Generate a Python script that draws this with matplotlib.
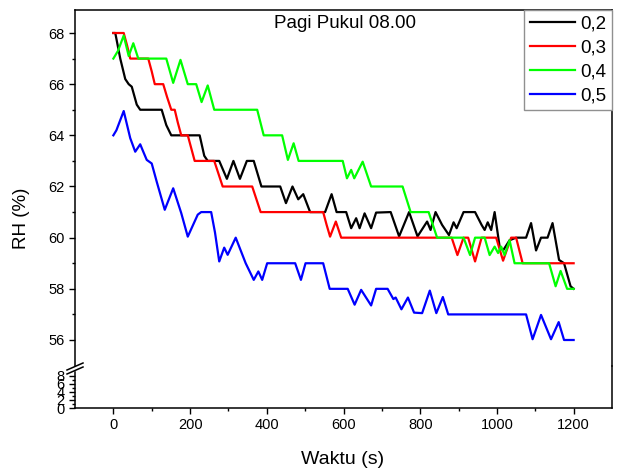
import matplotlib
matplotlib.use("Agg")
import matplotlib.pyplot as plt
from matplotlib.lines import Line2D

plt.rcParams['font.family'] = ['Liberation Sans', 'DejaVu Sans']

# data: time (s) and RH (%) at the turning points
t_02 = [0, 5, 18, 31, 40, 48, 61, 70, 126, 138, 151, 225, 237, 246, 276, 296, 313, 330, 348,
        366, 386, 435, 450, 467, 482, 495, 513, 552, 569, 582, 607, 620, 633, 642, 655, 672,
        685, 723, 745, 771, 793, 818, 827, 840, 857, 875, 887, 895, 913, 943, 960, 968, 976,
        985, 994, 1007, 1016, 1033, 1050, 1076, 1089, 1102, 1115, 1132, 1145, 1162, 1175, 1192, 1200]
rh_02 = [68, 68, 67.0, 66.2, 66.0, 65.9, 65.2, 65, 65, 64.4, 64, 64, 63.2, 63, 63, 62.3, 63, 62.3, 63,
         63, 62, 62, 61.35, 62, 61.5, 61.7, 61, 61, 61.7, 61, 61, 60.37, 60.76, 60.37, 60.95, 60.37,
         60.98, 61, 60.05, 61, 60.05, 60.63, 60.3, 61, 60.5, 60.1, 60.6, 60.37, 61, 61, 60.5, 60.3, 60.6,
         60.3, 61, 59.65, 59.5, 59.9, 60, 60, 60.57, 59.5, 60, 60, 60.57, 59.13, 59.0, 58.1, 58]

t_03 = [0, 27, 36, 44, 91, 100, 108, 130, 140, 151, 160, 168, 177, 194, 203, 212, 263, 274, 285,
        362, 373, 384, 547, 556, 565, 580, 594, 882, 897, 913, 925, 943, 960, 998, 1016, 1037,
        1050, 1067, 1200]
rh_03 = [68, 68, 67.5, 67, 67, 66.5, 66, 66, 65.5, 65, 65, 64.5, 64, 64, 63.5, 63, 63, 62.5, 62,
         62, 61.5, 61, 61, 60.5, 60.04, 60.63, 60, 60, 59.32, 60, 60, 59.07, 60, 60, 59.1, 60,
         60, 59, 59]

t_04 = [0, 12, 27, 40, 52, 65, 138, 156, 175, 194, 216, 230, 246, 263, 375, 392, 440, 455, 470,
        483, 598, 609, 620, 628, 650, 672, 754, 775, 822, 844, 913, 930, 943, 968, 981, 994,
        1003, 1011, 1020, 1033, 1046, 1136, 1153, 1166, 1183, 1200]
rh_04 = [67, 67.3, 67.9, 67.1, 67.6, 67, 67, 66.05, 66.95, 66, 66, 65.3, 65.95, 65, 65, 64, 64, 63.04,
         63.69, 63, 63, 62.32, 62.65, 62.32, 62.97, 62, 62, 61, 61, 60, 60, 59.32, 60, 60, 59.32, 59.65,
         59.4, 59.65, 59.32, 59.9, 59, 59, 58.1, 58.7, 58, 58]

t_05 = [0, 8, 27, 44, 57, 70, 78, 87, 100, 113, 134, 156, 177, 194, 220, 229, 255, 265, 276, 289,
        298, 319, 332, 345, 366, 378, 388, 401, 474, 489, 501, 547, 564, 611, 629, 646, 672, 685,
        715, 730, 736, 751, 768, 784, 805, 825, 842, 859, 873, 1076, 1093, 1115, 1141, 1161, 1175, 1200]
rh_05 = [64, 64.2, 64.95, 63.89, 63.36, 63.65, 63.36, 63.04, 62.9, 62.19, 61.09, 61.93, 60.96, 60.04, 60.9,
         61, 61, 60.2, 59.07, 59.61, 59.33, 60, 59.5, 59.0, 58.35, 58.68, 58.35, 59, 59, 58.35, 59, 59,
         58, 58, 57.38, 57.96, 57.35, 58, 58, 57.6, 57.66, 57.2, 57.66, 57.07, 57.05, 57.93, 57.05, 57.68,
         57, 57, 56.03, 56.98, 56.03, 56.7, 56, 56]

labels = ['0,2', '0,3', '0,4', '0,5']
colors = ['#000000', '#ff0000', '#00ff00', '#0000ff']

W, H = 617, 470
fig = plt.figure(figsize=(W / 100, H / 100), dpi=100)

def fx(px):
    return px / W

def fy(py):
    return 1 - py / H

L, R, T, B, SPLIT = 75, 612, 10, 408, 366
ax = fig.add_axes([fx(L), fy(SPLIT), fx(R - L), (SPLIT - T) / H])
axb = fig.add_axes([fx(L), fy(B), fx(R - L), (B - SPLIT) / H], sharex=ax)

for tt, rr, c, lab in zip([t_02, t_03, t_04, t_05], [rh_02, rh_03, rh_04, rh_05], colors, labels):
    ax.plot(tt, rr, color=c, lw=1.6, label=lab, solid_joinstyle='round')

ax.set_xlim(-100, 1300)
ax.set_ylim(56 - 26 / 25.583, 68 + 23 / 25.583)
ax.set_yticks([56, 58, 60, 62, 64, 66, 68])
ax.set_yticks([57, 59, 61, 63, 65, 67], minor=True)
ax.spines['bottom'].set_visible(False)
ax.tick_params(axis='x', which='both', bottom=False, labelbottom=False)
ax.tick_params(axis='y', which='major', direction='out', length=4, width=1, labelsize=10.5)
ax.tick_params(axis='y', which='minor', direction='out', length=2.5, width=1)

axb.set_ylim(0, 42 / 4.04)
axb.set_yticks([0, 2, 4, 6, 8])
axb.set_yticks([1, 3, 5, 7], minor=True)
axb.spines['top'].set_visible(False)
axb.spines['left'].set_bounds(0, 8.9)
axb.set_xticks([0, 200, 400, 600, 800, 1000, 1200])
axb.set_xticks([100, 300, 500, 700, 900, 1100], minor=True)
axb.tick_params(axis='both', which='major', direction='out', length=4, width=1, labelsize=10.5)
axb.tick_params(axis='both', which='minor', direction='out', length=2.5, width=1)
axb.patch.set_alpha(0)

for a in (ax, axb):
    for s in a.spines.values():
        s.set_linewidth(1.1)

# axis break marks on the left spine
for dy in (0, 4):
    fig.add_artist(Line2D([fx(L - 8), fx(L + 8)], [fy(370 + dy), fy(363 + dy)],
                          color='black', lw=1.1))

ax.legend(loc='upper right', borderaxespad=0, fontsize=13.5, handlelength=2.4,
          fancybox=False, edgecolor='#909090', framealpha=1, labelspacing=0.36,
          handletextpad=0.3, borderpad=0.3)

fig.text(fx(345), fy(23), 'Pagi Pukul 08.00', ha='center', va='center', fontsize=13.5)
fig.text(fx(22), fy(218), 'RH (%)', rotation=90, ha='center', va='center', fontsize=13.5)
fig.text(fx(343), fy(459), 'Waktu (s)', ha='center', va='center', fontsize=14)

fig.savefig('out.png', dpi=100)
